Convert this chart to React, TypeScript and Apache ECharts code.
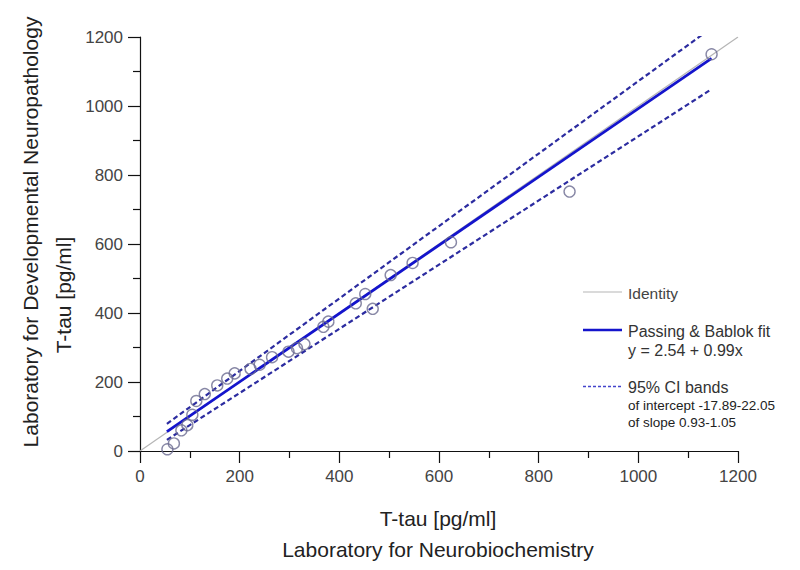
import React, { useEffect, useRef } from "react";
import * as echarts from "echarts";

// Observations: T-tau [pg/ml], Neurobiochemistry lab (x) vs Developmental Neuropathology lab (y)
const obsX = [55, 68, 83, 95, 105, 113, 130, 155, 175, 190, 222, 240, 265, 298, 315, 330, 368, 378, 433, 452, 467, 503, 547, 624, 862, 1147];
const obsY = [5, 22, 60, 75, 105, 145, 165, 190, 210, 225, 238, 250, 272, 288, 298, 310, 360, 375, 428, 455, 412, 510, 545, 605, 752, 1150];

// Passing & Bablok fit and 95% CI lines: [intercept, slope]
const fitCoef = [2.54, 0.99];
const ciLowerCoef = [-17.89, 0.93];
const ciUpperCoef = [22.05, 1.05];
const fitRange = [54, 1147];
const identityRange = [0, 1200];

const legendLabels = ["Identity", "Passing & Bablok fit", "y = 2.54 + 0.99x", "95% CI bands", "of intercept -17.89-22.05", "of slope 0.93-1.05"];

const lineFrom = (coef: number[], range: number[]) => range.map((x) => [x, coef[0] + coef[1] * x]);

export default function App() {
  const ref = useRef<HTMLDivElement>(null);
  useEffect(() => {
    if (!ref.current) return;
    const chart = echarts.init(ref.current, undefined, { renderer: "svg" });
    const font = "Arial, 'Liberation Sans', sans-serif";
    const axisCommon = {
      min: 0,
      max: 1200,
      interval: 200,
      axisLine: { show: true, onZero: false, lineStyle: { color: "#111", width: 1.2 } },
      axisTick: { show: true, inside: false, length: 12, lineStyle: { color: "#111", width: 1.2 } },
      minorTick: { show: true, splitNumber: 2, length: 7, lineStyle: { color: "#111", width: 1.2 } },
      splitLine: { show: false },
      axisLabel: { color: "#444", fontSize: 17, fontFamily: font, formatter: (v: number) => String(v) },
    };
    chart.setOption({
      animation: false,
      backgroundColor: "#fff",
      grid: { left: 140, right: 62, top: 37, bottom: 119, containLabel: false },
      xAxis: { type: "value", ...axisCommon, axisLabel: { ...axisCommon.axisLabel, margin: 17 } },
      yAxis: { type: "value", ...axisCommon, axisLabel: { ...axisCommon.axisLabel, margin: 17 } },
      series: [
        {
          type: "line",
          data: lineFrom([0, 1], identityRange),
          showSymbol: false,
          lineStyle: { color: "#b5b5b5", width: 1.2 },
          z: 1,
        },
        {
          type: "line",
          data: lineFrom(ciUpperCoef, fitRange),
          showSymbol: false,
          clip: true,
          lineStyle: { color: "#2c2ca0", width: 2.2, type: [5, 3] },
          z: 2,
        },
        {
          type: "line",
          data: lineFrom(ciLowerCoef, fitRange),
          showSymbol: false,
          clip: true,
          lineStyle: { color: "#2c2ca0", width: 2.2, type: [5, 3] },
          z: 2,
        },
        {
          type: "line",
          data: lineFrom(fitCoef, fitRange),
          showSymbol: false,
          lineStyle: { color: "#1414cc", width: 2.8 },
          z: 3,
        },
        {
          type: "scatter",
          data: obsX.map((x, i) => [x, obsY[i]]),
          symbol: "circle",
          symbolSize: 11,
          itemStyle: { color: "rgba(0,0,0,0)", borderColor: "#6a6a90", borderWidth: 1.4 },
          z: 4,
        },
      ],
      graphic: [
        { type: "text", x: 438, y: 518, style: { text: "T-tau [pg/ml]", fill: "#222", font: `21px ${font}`, align: "center", verticalAlign: "middle" } },
        { type: "text", x: 438, y: 549, style: { text: "Laboratory for Neurobiochemistry", fill: "#222", font: `21px ${font}`, align: "center", verticalAlign: "middle" } },
        { type: "text", x: 63, y: 295, rotation: Math.PI / 2, style: { text: "T-tau [pg/ml]", fill: "#222", font: `21px ${font}`, align: "center", verticalAlign: "middle" } },
        { type: "text", x: 30, y: 232, rotation: Math.PI / 2, style: { text: "Laboratory for Developmental Neuropathology", fill: "#222", font: `21px ${font}`, align: "center", verticalAlign: "middle" } },
        { type: "line", shape: { x1: 583, y1: 292, x2: 622, y2: 292 }, style: { stroke: "#b5b5b5", lineWidth: 1.2 } },
        { type: "text", x: 628, y: 293, style: { text: legendLabels[0], fill: "#444", font: `15.5px ${font}`, verticalAlign: "middle" } },
        { type: "line", shape: { x1: 583, y1: 330, x2: 622, y2: 330 }, style: { stroke: "#1414cc", lineWidth: 2.4 } },
        { type: "text", x: 628, y: 331, style: { text: legendLabels[1], fill: "#333", font: `16px ${font}`, verticalAlign: "middle" } },
        { type: "text", x: 628, y: 350, style: { text: legendLabels[2], fill: "#333", font: `16px ${font}`, verticalAlign: "middle" } },
        { type: "line", shape: { x1: 583, y1: 386.5, x2: 622, y2: 386.5 }, style: { stroke: "#4444cc", lineWidth: 1.5, lineDash: [3, 2] } },
        { type: "text", x: 628, y: 387, style: { text: legendLabels[3], fill: "#333", font: `16px ${font}`, verticalAlign: "middle" } },
        { type: "text", x: 628, y: 405, style: { text: legendLabels[4], fill: "#222", font: `13.5px ${font}`, verticalAlign: "middle" } },
        { type: "text", x: 628, y: 422, style: { text: legendLabels[5], fill: "#222", font: `13.5px ${font}`, verticalAlign: "middle" } },
      ],
    });
    return () => chart.dispose();
  }, []);
  return <div ref={ref} style={{ width: 800, height: 570, position: "absolute", left: 0, top: 0 }} />;
}
